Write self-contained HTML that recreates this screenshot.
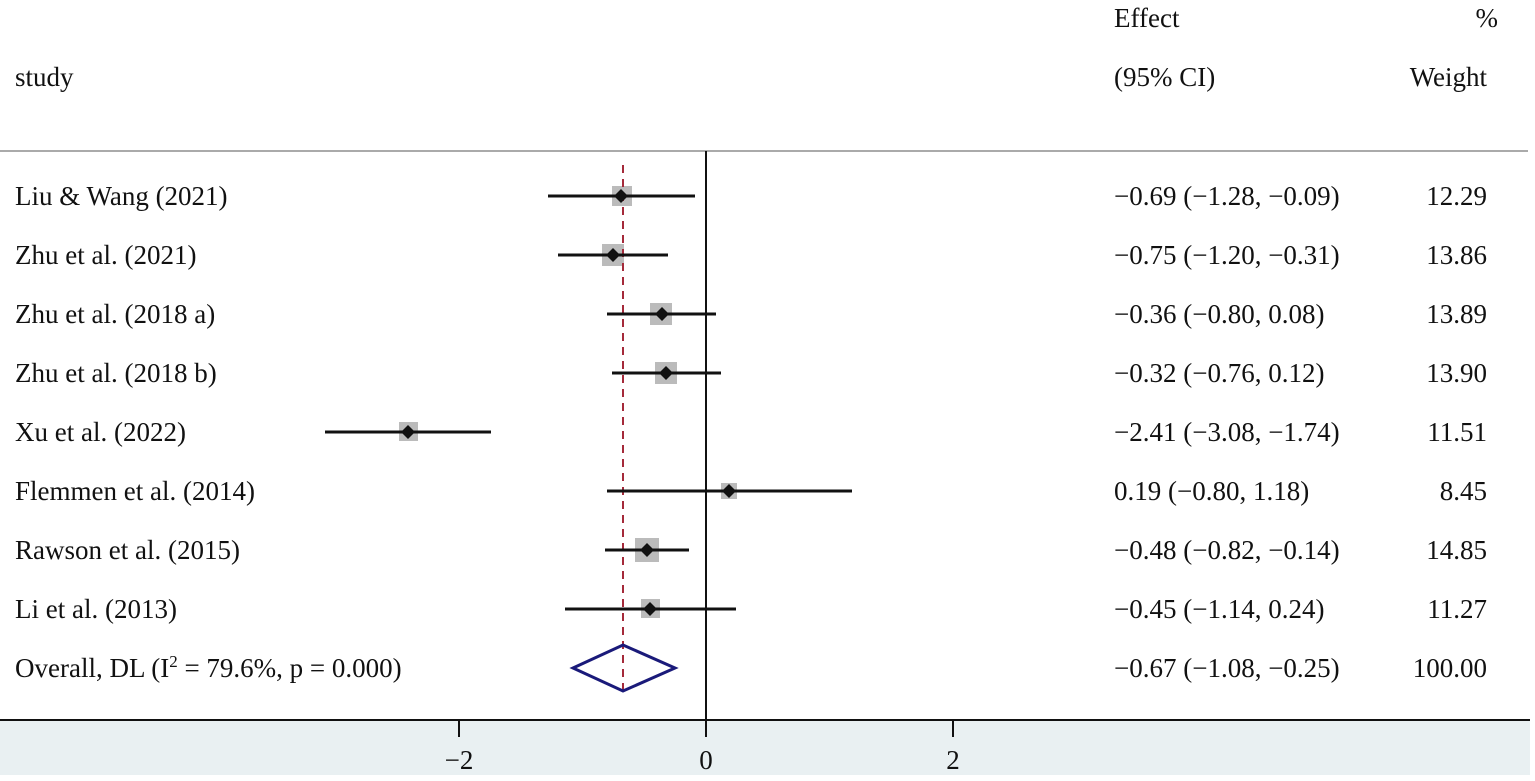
<!DOCTYPE html>
<html><head><meta charset="utf-8"><style>
html,body{margin:0;padding:0;background:#fff;}
svg{display:block;}
text{font-family:"Liberation Serif",serif;font-size:27px;fill:#111;}
</style></head><body>
<svg width="1535" height="781" viewBox="0 0 1535 781">
<rect x="0" y="720" width="1530" height="55" fill="#e9f0f2"/>
<line x1="0" y1="151" x2="1528" y2="151" stroke="#aaa" stroke-width="2"/>
<line x1="0" y1="720" x2="1530" y2="720" stroke="#111" stroke-width="2"/>
<line x1="706" y1="151" x2="706" y2="720" stroke="#111" stroke-width="2"/>
<g stroke="#111" stroke-width="2">
<line x1="459" y1="720" x2="459" y2="737"/>
<line x1="706" y1="720" x2="706" y2="737"/>
<line x1="953" y1="720" x2="953" y2="737"/>
</g>
<text x="459" y="769" text-anchor="middle">−2</text>
<text x="706" y="769" text-anchor="middle">0</text>
<text x="953" y="769" text-anchor="middle">2</text>

<text x="1114" y="27">Effect</text>
<text x="1498" y="27" text-anchor="end">%</text>
<text x="15" y="86">study</text>
<text x="1114" y="86">(95% CI)</text>
<text x="1487" y="86" text-anchor="end">Weight</text>

<g fill="#bbb">
<rect x="612" y="186" width="20" height="20"/>
<rect x="602" y="244" width="22" height="22"/>
<rect x="650" y="303" width="22" height="22"/>
<rect x="655" y="362" width="22" height="22"/>
<rect x="399" y="422" width="19" height="19"/>
<rect x="721" y="483" width="16" height="16"/>
<rect x="635" y="538" width="24" height="24"/>
<rect x="641" y="599" width="19" height="19"/>
</g>
<line x1="623" y1="165" x2="623" y2="695" stroke="#a52a3a" stroke-width="2" stroke-dasharray="8,6"/>
<g stroke="#111" stroke-width="3">
<line x1="548" y1="196" x2="695" y2="196"/>
<line x1="558" y1="255" x2="668" y2="255"/>
<line x1="607" y1="314" x2="716" y2="314"/>
<line x1="612" y1="373" x2="721" y2="373"/>
<line x1="325" y1="432" x2="491" y2="432"/>
<line x1="607" y1="491" x2="852" y2="491"/>
<line x1="605" y1="550" x2="689" y2="550"/>
<line x1="565" y1="609" x2="736" y2="609"/>
</g>
<g fill="#111">
<polygon points="621,189 628,196 621,203 614,196"/>
<polygon points="613,248 620,255 613,262 606,255"/>
<polygon points="662,307 669,314 662,321 655,314"/>
<polygon points="666,366 673,373 666,380 659,373"/>
<polygon points="408,425 415,432 408,439 401,432"/>
<polygon points="729,484 736,491 729,498 722,491"/>
<polygon points="647,543 654,550 647,557 640,550"/>
<polygon points="650,602 657,609 650,616 643,609"/>
</g>
<polygon points="573,668 623,645 675,668 623,691" fill="none" stroke="#1a1a7a" stroke-width="3"/>

<g>
<text x="15" y="205">Liu &amp; Wang (2021)</text>
<text x="15" y="264">Zhu et al. (2021)</text>
<text x="15" y="323">Zhu et al. (2018 a)</text>
<text x="15" y="382">Zhu et al. (2018 b)</text>
<text x="15" y="441">Xu et al. (2022)</text>
<text x="15" y="500">Flemmen et al. (2014)</text>
<text x="15" y="559">Rawson et al. (2015)</text>
<text x="15" y="618">Li et al. (2013)</text>
<text x="15" y="677">Overall, DL (I<tspan dy="-10" font-size="17">2</tspan><tspan dy="10"> = 79.6%, p = 0.000)</tspan></text>
</g>
<g>
<text x="1114" y="205">−0.69 (−1.28, −0.09)</text>
<text x="1114" y="264">−0.75 (−1.20, −0.31)</text>
<text x="1114" y="323">−0.36 (−0.80, 0.08)</text>
<text x="1114" y="382">−0.32 (−0.76, 0.12)</text>
<text x="1114" y="441">−2.41 (−3.08, −1.74)</text>
<text x="1114" y="500">0.19 (−0.80, 1.18)</text>
<text x="1114" y="559">−0.48 (−0.82, −0.14)</text>
<text x="1114" y="618">−0.45 (−1.14, 0.24)</text>
<text x="1114" y="677">−0.67 (−1.08, −0.25)</text>
</g>
<g text-anchor="end">
<text x="1487" y="205">12.29</text>
<text x="1487" y="264">13.86</text>
<text x="1487" y="323">13.89</text>
<text x="1487" y="382">13.90</text>
<text x="1487" y="441">11.51</text>
<text x="1487" y="500">8.45</text>
<text x="1487" y="559">14.85</text>
<text x="1487" y="618">11.27</text>
<text x="1487" y="677">100.00</text>
</g>
</svg>
</body></html>
